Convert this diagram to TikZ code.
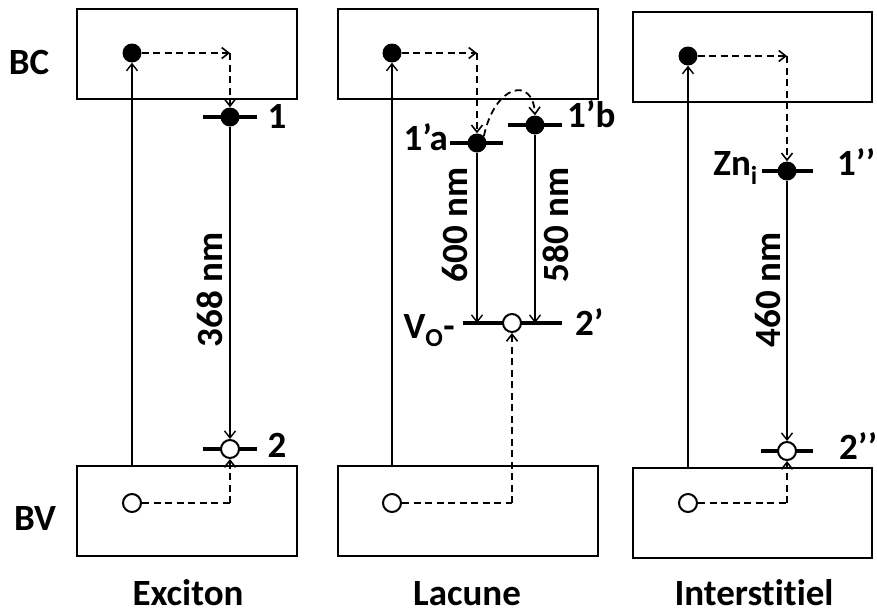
\documentclass[tikz,border=0pt]{standalone}
\usepackage{fontspec}
\setmainfont{Carlito}[RawFeature={-liga;-clig;-dlig}]
\usetikzlibrary{arrows.meta}
\begin{document}
\begin{tikzpicture}[x=1pt,y=-1pt,
  band/.style={draw,line width=2.6pt,inner sep=0pt,minimum height=90pt},
  edot/.style={circle,fill=black,inner sep=0pt,minimum size=19pt},
  hdot/.style={circle,draw,fill=white,line width=2pt,inner sep=0pt,minimum size=18pt},
  lvl/.style={line width=4pt},
  arr/.style={line width=1.4pt,-{Straight Barb[length=7pt,width=11pt,line width=1.4pt]}},
  darr/.style={line width=1.8pt,dash pattern=on 7pt off 4.5pt,-{Straight Barb[length=7pt,width=11pt,line width=1.6pt]}},
  dln/.style={line width=1.8pt,dash pattern=on 7pt off 4.5pt},
  lab/.style={font=\fontsize{37}{42}\selectfont\bfseries,inner sep=0pt},
  rlab/.style={font=\fontsize{37}{42}\selectfont\bfseries,inner sep=0pt,rotate=90}]
\useasboundingbox (0,0) rectangle (877,614);
% ---------- bands ----------
\node[band,minimum width=220pt] (bcE) at (187,54) {};
\node[band,minimum width=220pt] (bvE) at (187,511) {};
\node[band,minimum width=260pt] (bcL) at (468,54) {};
\node[band,minimum width=260pt] (bvL) at (468,511) {};
\node[band,minimum width=239pt] (bcI) at (752.5,57) {};
\node[band,minimum width=239pt] (bvI) at (752.5,513) {};
% ---------- levels ----------
\coordinate (l1a) at (203,117); \coordinate (l1b) at (257,117);
\coordinate (l2a) at (203,449); \coordinate (l2b) at (257,449);
\coordinate (laa) at (450,143); \coordinate (lab) at (503,143);
\coordinate (lba) at (508,125); \coordinate (lbb) at (562,125);
\coordinate (lpa) at (463,323); \coordinate (lpb) at (562,323);
\coordinate (lia) at (762,171); \coordinate (lib) at (813,171);
\coordinate (lja) at (761,451); \coordinate (ljb) at (813,451);
\draw[lvl] (l1a) -- (l1b);
\draw[lvl] (l2a) -- (l2b);
\draw[lvl] (laa) -- (lab);
\draw[lvl] (lba) -- (lbb);
\draw[lvl] (lpa) -- (lpb);
\draw[lvl] (lia) -- (lib);
\draw[lvl] (lja) -- (ljb);
% ---------- dots ----------
\node[edot] (eE) at (132,53) {};
\node[hdot] (hE) at (132,503) {};
\node[edot] (n1) at (230,117) {};
\node[hdot] (n2) at (230,449) {};
\node[edot] (eL) at (392,53) {};
\node[hdot] (hL) at (392,503) {};
\node[edot] (na) at (477,143) {};
\node[edot] (nb) at (535,125) {};
\node[hdot] (np) at (512,323) {};
\node[edot] (eI) at (688,56) {};
\node[hdot] (hI) at (688,503) {};
\node[edot] (ni) at (787,171) {};
\node[hdot] (nj) at (787,451) {};
% ---------- Exciton ----------
\draw[arr] (bvE.north -| eE) -- (eE);
\draw[darr] (eE) -- (eE -| n1);
\draw[darr] (eE -| n1) -- (n1);
\draw[arr] (n1) -- (n2);
\draw[dln] (hE) -- (hE -| n2);
\draw[darr] (hE -| n2) -- (n2);
% ---------- Lacune ----------
\draw[arr] (bvL.north -| eL) -- (eL);
\draw[darr] (eL) -- (eL -| na);
\draw[darr] (eL -| na) -- (na);
\draw[darr] (na.north east) .. controls (495,84) and (533,76) .. (nb.north);
\draw[arr] (na) -- (na |- np);
\draw[arr] (nb) -- (nb |- np);
\draw[dln] (hL) -- (hL -| np);
\draw[darr] (hL -| np) -- (np);
% ---------- Interstitiel ----------
\draw[arr] (bvI.north -| eI) -- (eI);
\draw[darr] (eI) -- (eI -| ni);
\draw[darr] (eI -| ni) -- (ni);
\draw[arr] (ni) -- (nj);
\draw[dln] (hI) -- (hI -| nj);
\draw[darr] (hI -| nj) -- (nj);
% ---------- labels ----------
\node[lab,anchor=base] (tBC) at (29,74) {BC};
\node[lab,anchor=base] (tBV) at (35,530) {BV};
\node[lab,anchor=base] (t1) at (277,128) {1};
\node[lab,anchor=base] (t2) at (277,457) {2};
\node[lab,anchor=base east] (t1a) at (448,150) {1’a};
\node[lab,anchor=base west] (t1b) at (567,127) {1’b};
\node[lab,anchor=base west] (t2p) at (575,335) {2’};
\node[lab,anchor=base east] (tVo) at (455,338) {V\textsubscript{O}-};
\node[lab,anchor=base east] (tZn) at (758,175) {Zn\textsubscript{i}};
\node[lab,anchor=base west] (t1pp) at (837,175) {1’’};
\node[lab,anchor=base west] (t2pp) at (839,459) {2’’};
\node[rlab] (w1) at (210,290) {368 nm};
\node[rlab] (w2) at (455,225) {600 nm};
\node[rlab] (w3) at (556,225) {580 nm};
\node[rlab] (w4) at (768,290) {460 nm};
\node[lab,anchor=base] (cE) at (188,605) {Exciton};
\node[lab,anchor=base] (cL) at (467,605) {Lacune};
\node[lab,anchor=base] (cI) at (754,605) {Interstitiel};
\end{tikzpicture}
\end{document}
